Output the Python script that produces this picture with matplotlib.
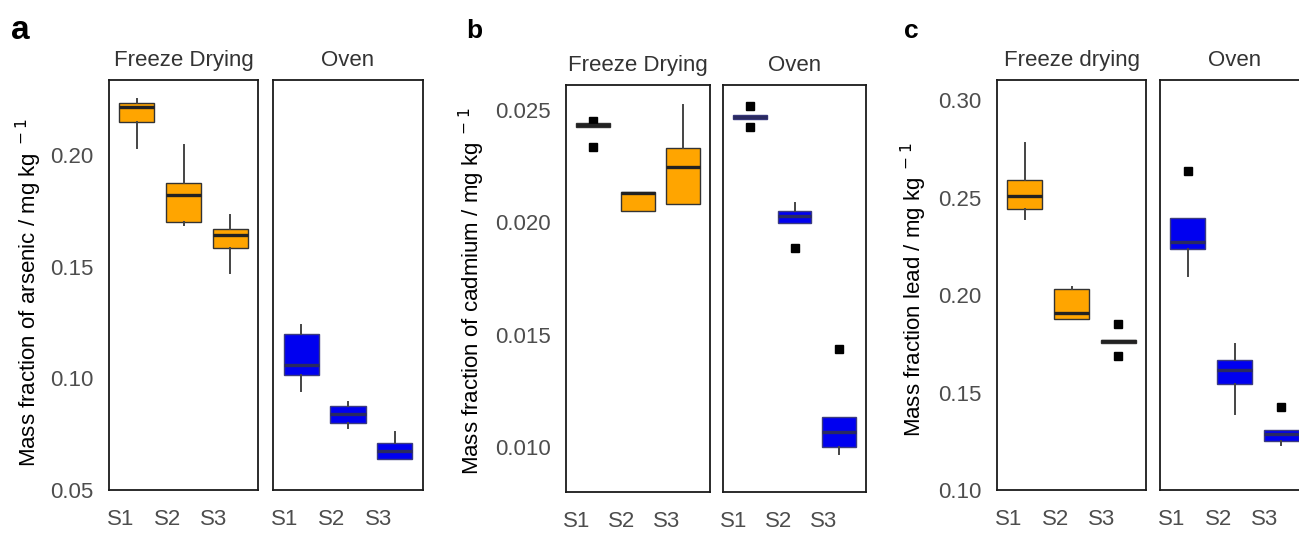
import matplotlib.pyplot as plt
from matplotlib.transforms import ScaledTranslation

plt.rcParams['font.family'] = ['Liberation Sans', 'DejaVu Sans']

samples = ["S1", "S2", "S3"]
groups_ab = ["Freeze Drying", "Oven"]
groups_c = ["Freeze drying", "Oven"]

# box statistics, order: FD S1, FD S2, FD S3, Oven S1, Oven S2, Oven S3
arsenic_whislo = [0.2030, 0.1685, 0.1470, 0.0941, 0.0779, 0.0638]
arsenic_q1 = [0.2146, 0.1700, 0.1582, 0.1013, 0.0798, 0.0638]
arsenic_med = [0.2213, 0.1820, 0.1640, 0.1061, 0.0839, 0.0674]
arsenic_q3 = [0.2231, 0.1872, 0.1670, 0.1199, 0.0877, 0.0709]
arsenic_whishi = [0.2248, 0.2044, 0.1730, 0.1237, 0.0896, 0.0761]
arsenic_fliers = [[], [], [], [], [], []]

cadmium_whislo = [0.02424, 0.02048, 0.02081, 0.02460, 0.01995, 0.00971]
cadmium_q1 = [0.02424, 0.02048, 0.02081, 0.02460, 0.01995, 0.00999]
cadmium_med = [0.02432, 0.02128, 0.02244, 0.02468, 0.02026, 0.01065]
cadmium_q3 = [0.02440, 0.02134, 0.02330, 0.02476, 0.02048, 0.01134]
cadmium_whishi = [0.02440, 0.02134, 0.02520, 0.02476, 0.02086, 0.01134]
cadmium_fliers = [[0.02450, 0.02334], [], [], [0.02518, 0.02425], [0.01883], [0.01438]]

lead_whislo = [0.2390, 0.1876, 0.1757, 0.2097, 0.1392, 0.1230]
lead_q1 = [0.2442, 0.1876, 0.1757, 0.2238, 0.1544, 0.1250]
lead_med = [0.2511, 0.1910, 0.1763, 0.2273, 0.1618, 0.1285]
lead_q3 = [0.2592, 0.2033, 0.1770, 0.2394, 0.1668, 0.1306]
lead_whishi = [0.2779, 0.2041, 0.1770, 0.2394, 0.1751, 0.1306]
lead_fliers = [[], [], [0.1850, 0.1686], [0.2636], [], [0.1428]]

arsenic_ticks = [0.05, 0.10, 0.15, 0.20]
cadmium_ticks = [0.010, 0.015, 0.020, 0.025]
lead_ticks = [0.10, 0.15, 0.20, 0.25, 0.30]

W, H = 1299, 535
fig = plt.figure(figsize=(W / 100, H / 100), dpi=100)

ORANGE = "#FFA500"
BLUE = "#0000F0"
TICK_GREY = "#4D4D4D"


def px_axes(x0, x1, y0, y1):
    return fig.add_axes([x0 / W, 1 - y1 / H, (x1 - x0) / W, (y1 - y0) / H])


def draw_panel(boxes, facets, groups, ylim, ticks, fmt, ylabel, ylabel_xy, letter, letter_xy, letter_size):
    whislo, q1, med, q3, whishi, fliers = boxes
    for k, (x0, x1, y0, y1) in enumerate(facets):
        ax = px_axes(x0, x1, y0, y1)
        stats = []
        for i in range(3):
            j = 3 * k + i
            stats.append(dict(whislo=whislo[j], q1=q1[j], med=med[j], q3=q3[j],
                              whishi=whishi[j], fliers=fliers[j]))
        fill = ORANGE if k == 0 else BLUE
        edge = "#333333" if k == 0 else "#3c3c80"
        mcol = "#222222" if k == 0 else "#2a2a60"
        ax.bxp(stats, positions=[1, 2, 3], widths=0.75, patch_artist=True,
               showcaps=False,
               boxprops=dict(facecolor=fill, edgecolor=edge, linewidth=1.0),
               medianprops=dict(color=mcol, linewidth=2.4),
               whiskerprops=dict(color="#444444", linewidth=1.4),
               flierprops=dict(marker="s", markersize=5.5, markerfacecolor="black",
                               markeredgecolor="black"))
        ax.set_xlim(0.4, 3.6)
        ax.set_ylim(*ylim)
        ax.set_xticks([1, 2, 3])
        ax.set_xticklabels(samples)
        ax.tick_params(axis="x", length=0, pad=14, labelsize=16, labelcolor=TICK_GREY)
        for lab in ax.get_xticklabels():
            lab.set_transform(lab.get_transform() + ScaledTranslation(-0.16, 0, fig.dpi_scale_trans))
        ax.set_yticks(ticks)
        if k == 0:
            ax.set_yticklabels([fmt.format(t) for t in ticks])
            ax.tick_params(axis="y", length=0, pad=11, labelsize=16, labelcolor=TICK_GREY)
        else:
            ax.tick_params(axis="y", length=0, labelleft=False)
        for s in ax.spines.values():
            s.set_linewidth(1.3)
            s.set_color("#1a1a1a")
        ax.set_title(groups[k], fontsize=16, color="#333333", pad=10)
    fig.text(ylabel_xy[0] / W, 1 - ylabel_xy[1] / H, ylabel, rotation=90,
             ha="center", va="center", fontsize=16, color="black")
    fig.text(letter_xy[0] / W, 1 - letter_xy[1] / H, letter, fontsize=letter_size,
             fontweight="bold", ha="left", va="baseline")


draw_panel((arsenic_whislo, arsenic_q1, arsenic_med, arsenic_q3, arsenic_whishi, arsenic_fliers),
           [(109, 258, 80, 490), (273, 423, 80, 490)], groups_ab,
           (0.0515, 0.2335), arsenic_ticks, "{:.2f}",
           "Mass fraction of arsenic / mg kg$^{\\ -1}$", (29, 293), "a", (11, 39), 24)

draw_panel((cadmium_whislo, cadmium_q1, cadmium_med, cadmium_q3, cadmium_whishi, cadmium_fliers),
           [(566, 710, 85, 492), (723, 866, 85, 492)], groups_ab,
           (0.0080, 0.0261), cadmium_ticks, "{:.3f}",
           "Mass fraction of cadmium / mg kg$^{\\ -1}$", (472, 291), "b", (466, 38), 19)

draw_panel((lead_whislo, lead_q1, lead_med, lead_q3, lead_whishi, lead_fliers),
           [(997, 1146, 80, 490), (1160, 1309, 80, 490)], groups_c,
           (0.1017, 0.3105), lead_ticks, "{:.2f}",
           "Mass fraction lead / mg kg$^{\\ -1}$", (914, 290), "c", (904, 38), 19)

fig.savefig("out.png", dpi=100)
